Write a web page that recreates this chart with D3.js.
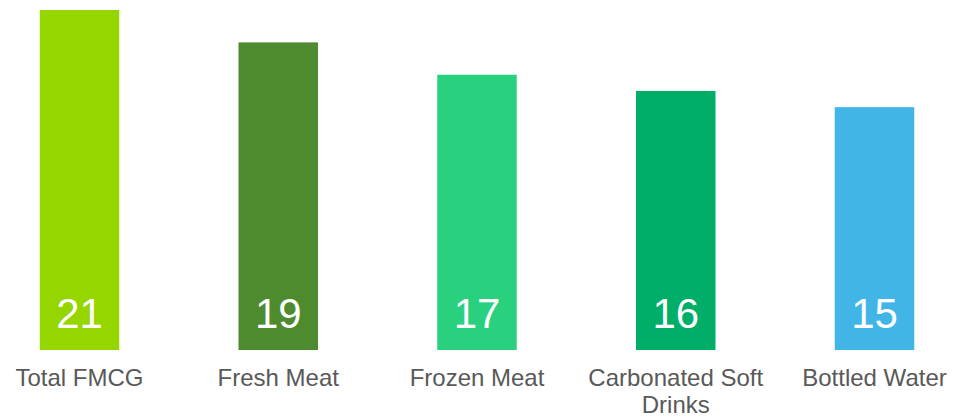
<!DOCTYPE html>
<html>
<head>
<meta charset="utf-8">
<script src="https://cdn.jsdelivr.net/npm/d3@7"></script>
<style>
  body { margin: 0; background: #fff; }
  svg { display: block; font-family: "Liberation Sans", Arial, sans-serif; }
</style>
</head>
<body>
<div id="chart"></div>
<script>
// Chart data
const categories = ["Total FMCG", "Fresh Meat", "Frozen Meat", "Carbonated Soft Drinks", "Bottled Water"];
const values = [21, 19, 17, 16, 15];
const barColors = ["#95d600", "#4e8b2e", "#29d17f", "#00ae67", "#41b6e6"];

function main() {
    const width = 954, height = 417;

    const svg = d3.select("#chart").append("svg")
        .attr("width", width)
        .attr("height", height);

    const data = categories.map((c, i) => ({ cat: c, val: values[i], color: barColors[i] }));

    // Scales
    const x = d3.scaleBand().domain(categories).range([0, width])
        .paddingInner(0.6).paddingOuter(0.2);
    const y = d3.scaleLinear().domain([0, 21]).range([350, 10]);

    // Bars
    svg.selectAll(".bar")
        .data(data)
        .enter()
        .append("rect")
        .attr("class", "bar")
        .attr("x", d => x(d.cat))
        .attr("y", d => y(d.val))
        .attr("width", x.bandwidth())
        .attr("height", d => y(0) - y(d.val))
        .attr("fill", d => d.color);

    // Value labels inside the bars
    svg.selectAll(".val")
        .data(data)
        .enter()
        .append("text")
        .attr("class", "val")
        .attr("x", d => x(d.cat) + x.bandwidth() / 2)
        .attr("y", y(0) - 22)
        .attr("text-anchor", "middle")
        .attr("fill", "#fff")
        .style("font-size", "42px")
        .text(d => d.val);

    // Category labels, wrapped to fit
    const maxW = 185;
    svg.selectAll(".cat")
        .data(data)
        .enter()
        .append("text")
        .attr("class", "cat")
        .attr("text-anchor", "middle")
        .attr("fill", "#595959")
        .style("font-size", "24px")
        .each(function(d) {
            const t = d3.select(this);
            const cx = x(d.cat) + x.bandwidth() / 2;
            const words = d.cat.split(" ");
            let lines = [], line = [];
            const tmp = t.append("tspan");
            words.forEach(w => {
                const test = line.concat(w).join(" ");
                tmp.text(test);
                if (tmp.node().getComputedTextLength() > maxW && line.length) {
                    lines.push(line.join(" "));
                    line = [w];
                } else {
                    line.push(w);
                }
            });
            lines.push(line.join(" "));
            tmp.remove();
            lines.forEach((l, i) => {
                t.append("tspan")
                    .attr("x", cx)
                    .attr("y", 386 + i * 27)
                    .text(l);
            });
        });
}

main();
</script>
</body>
</html>
